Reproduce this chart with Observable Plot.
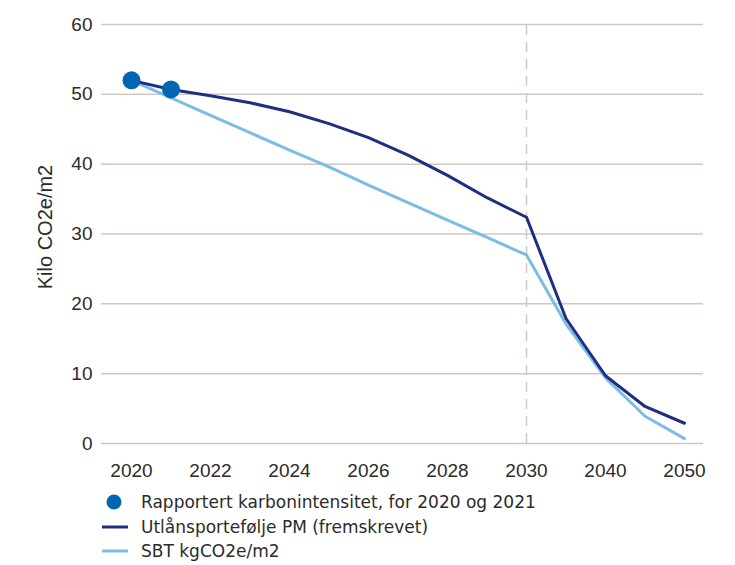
<!DOCTYPE html>
<html>
<head>
<meta charset="utf-8">
<script src="https://cdn.jsdelivr.net/npm/d3@7"></script>
<script src="https://cdn.jsdelivr.net/npm/@observablehq/plot@0.6"></script>
<style>
  html, body { margin: 0; padding: 0; background: #fff; }
  #chart { position: relative; width: 735px; }
  .legend { font-family: "DejaVu Sans", sans-serif; font-size: 17px; color: #2b2b2b; margin-left: 100px; margin-top: 5px; }
  .legend .row { display: flex; align-items: center; height: 24.5px; }
  .legend svg { width: 30px; height: 24px; margin-right: 11px; flex: none; }
</style>
</head>
<body>
<div id="chart"></div>
<script>
// Years and values
const reportedYears = [2020, 2021];
const reportedValues = [52.0, 50.7];

const pmYears = [2020, 2021, 2022, 2023, 2024, 2025, 2026, 2027, 2028, 2029, 2030, 2035, 2040, 2045, 2050];
const pmValues = [52.0, 50.7, 49.8, 48.8, 47.5, 45.8, 43.8, 41.3, 38.4, 35.2, 32.4, 17.9, 9.7, 5.3, 2.9];

const sbtYears = [2020, 2021, 2022, 2023, 2024, 2025, 2026, 2027, 2028, 2029, 2030, 2035, 2040, 2045, 2050];
const sbtValues = [52.0, 49.5, 47.0, 44.5, 42.0, 39.6, 37.0, 34.5, 32.0, 29.5, 27.0, 17.1, 9.4, 3.9, 0.7];

const xTicks = [2020, 2022, 2024, 2026, 2028, 2030, 2040, 2050];
const yTicks = [0, 10, 20, 30, 40, 50, 60];
const markerYear = 2030;

const seriesLabels = ["Rapportert karbonintensitet, for 2020 og 2021", "Utlånsportefølje PM (fremskrevet)", "SBT kgCO2e/m2"];
const yLabel = "Kilo CO2e/m2";

const colors = { dot: "#0066b3", pm: "#1f2f80", sbt: "#7cbde8", grid: "#d2c8bf", text: "#2b2b2b" };

const pm = pmYears.map((y, i) => ({ year: y, value: pmValues[i] }));
const sbt = sbtYears.map((y, i) => ({ year: y, value: sbtValues[i] }));
const reported = reportedYears.map((y, i) => ({ year: y, value: reportedValues[i] }));

const chart = Plot.plot({
  width: 735,
  height: 485,
  marginTop: 24,
  marginBottom: 42,
  marginLeft: 101,
  marginRight: 32,
  style: { fontFamily: "'Liberation Sans', Arial, sans-serif", fontSize: "19px", color: colors.text, background: "#fff" },
  x: { type: "linear", domain: [2020, 2030, 2050], range: [131, 526, 684], ticks: xTicks, tickFormat: d => String(d), tickSize: 0, tickPadding: 20, label: null },
  y: { type: "linear", domain: [0, 60], ticks: yTicks, tickSize: 0, tickPadding: 9, label: null },
  marks: [
    Plot.ruleY(yTicks, { stroke: colors.grid, strokeWidth: 1.5 }),
    Plot.ruleX([markerYear], { y1: 0, y2: 60, stroke: colors.grid, strokeWidth: 1.5, strokeDasharray: "10,7" }),
    Plot.line(sbt, { x: "year", y: "value", stroke: colors.sbt, strokeWidth: 3 }),
    Plot.line(pm, { x: "year", y: "value", stroke: colors.pm, strokeWidth: 3 }),
    Plot.dot(reported, { x: "year", y: "value", r: 9, fill: colors.dot, stroke: "none" }),
    Plot.text([yLabel], { frameAnchor: "left", textAnchor: "middle", rotate: -90, dx: -56, dy: -7, fontSize: 20, fill: colors.text })
  ]
});
document.getElementById("chart").appendChild(chart);

const legend = document.createElement("div");
legend.className = "legend";
const symbols = [
  `<circle cx="14" cy="12" r="7.5" fill="${colors.dot}"/>`,
  `<line x1="2" x2="28" y1="12" y2="12" stroke="${colors.pm}" stroke-width="3"/>`,
  `<line x1="2" x2="28" y1="12" y2="12" stroke="${colors.sbt}" stroke-width="3"/>`
];
seriesLabels.forEach((label, i) => {
  const row = document.createElement("div");
  row.className = "row";
  row.innerHTML = `<svg viewBox="0 0 30 24">${symbols[i]}</svg><span>${label}</span>`;
  legend.appendChild(row);
});
document.getElementById("chart").appendChild(legend);
</script>
</body>
</html>
